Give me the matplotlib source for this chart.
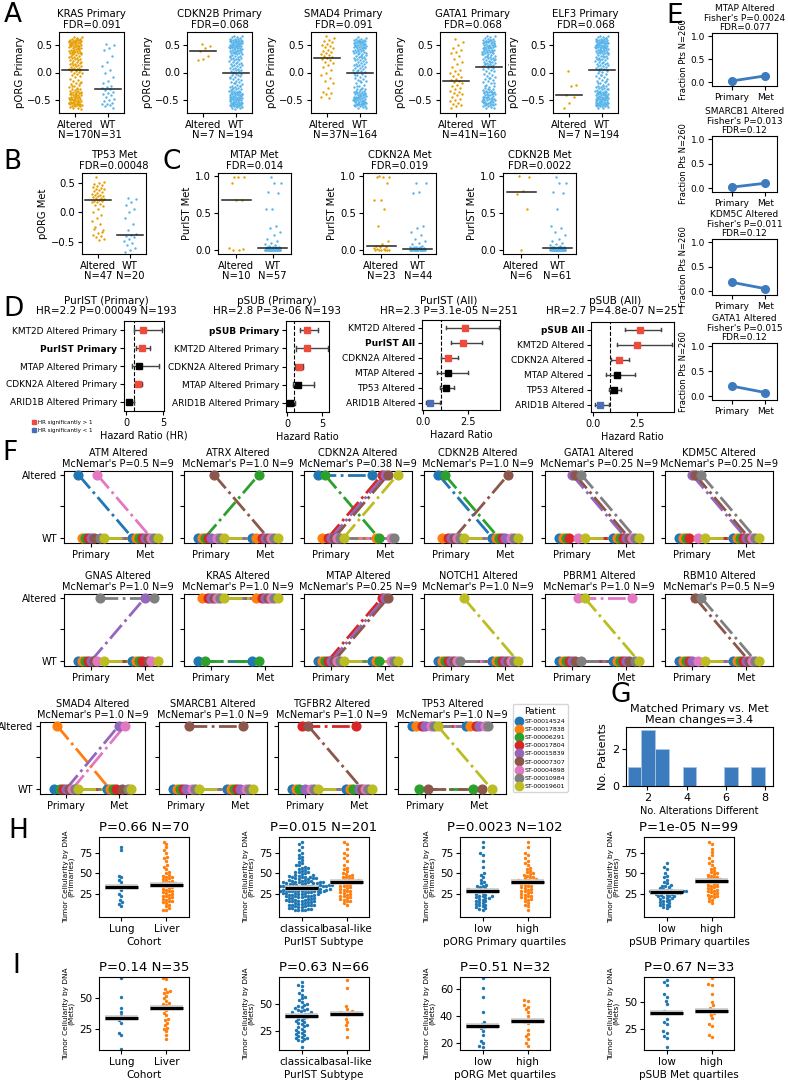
import numpy as np
import matplotlib
matplotlib.use("Agg")
import matplotlib.pyplot as plt
from matplotlib.lines import Line2D

plt.rcParams['font.family'] = ['DejaVu Sans']

# ============================ DATA ============================
# ---- Panel A: pORG Primary (values x100) ----
A_GENES = ["KRAS", "CDKN2B", "SMAD4", "GATA1", "ELF3"]
A_FDR = ["0.091", "0.068", "0.091", "0.068", "0.068"]
KRAS_ALT = ("65 64 63 62 61 60 60 59 58 58 57 56 56 55 55 54 53 53 52 52 51 50 50 49 48 48 47 46 45 45 "
            "44 43 42 42 41 40 39 38 38 37 36 35 34 33 32 31 30 29 28 27 26 25 24 23 22 21 20 19 18 17 "
            "16 15 14 13 12 11 10 9 8 7 6 6 60 55 50 45 40 35 48 52 44 38 57 62 33 "
            "4 3 2 1 0 -1 -3 -5 -7 -9 -11 -13 -15 -17 -19 -21 -23 -25 -27 -28 -30 -31 -32 -33 -34 -35 -36 -37 -38 -38 "
            "-39 -40 -41 -42 -42 -43 -44 -45 -45 -46 -47 -48 -48 -49 -50 -50 -51 -52 -52 -53 -54 -54 -55 -55 -56 -57 -57 -58 -58 -59 "
            "-60 -60 -61 -62 -62 -63 -64 -65 -66 -35 -40 -45 -50 -55 -30 -25 -20 -44 -48 -52 -56 -38 -42 -47 -60")
KRAS_WT = ("52 50 45 42 30 20 12 5 0 -8 -15 -20 -25 -27 -29 -30 "
           "-32 -35 -38 -40 -42 -45 -48 -50 -52 -55 -57 -58 -60 -62 -64")
CDKN2B_ALT = "52 48 45 39 30 25 22"
CDKN2B_WT = ("67 66 65 64 63 62 62 61 60 60 59 59 58 58 57 57 56 56 55 55 54 54 53 53 52 52 51 51 50 50 "
             "49 49 48 48 47 47 46 46 45 45 44 44 43 43 42 42 41 40 40 39 38 38 37 36 35 35 34 33 32 31 "
             "30 29 28 27 26 25 24 23 22 21 20 19 18 17 16 15 14 13 12 11 10 9 8 7 6 5 4 3 2 1 58 52 47 41 36 30 25 "
             "-1 -2 -3 -5 -6 -8 -9 -11 -12 -14 -15 -17 -18 -20 -21 -22 -24 -25 -26 -27 -28 -29 -30 -31 -32 -33 -33 -34 -35 -35 "
             "-36 -37 -37 -38 -38 -39 -40 -40 -41 -41 -42 -42 -43 -43 -44 -44 -45 -45 -46 -46 -47 -47 -48 -48 -49 -49 -50 -50 -51 -51 "
             "-52 -52 -53 -53 -54 -54 -55 -55 -56 -56 -57 -57 -58 -58 -59 -59 -60 -60 -61 -61 -62 -62 -63 -63 -64 -65 -66 -45 -50 -55 "
             "-40 -35 -30 -25 -20 -10 -5")
SMAD4_ALT = ("67 63 60 57 55 52 50 48 46 44 42 40 38 36 34 32 30 28 26 "
             "24 22 20 17 14 10 5 0 -5 -10 -15 -20 -28 -35 -38 -40 -45 -47")
SMAD4_WT = ("64 63 62 61 60 60 59 58 58 57 56 56 55 55 54 53 53 52 52 51 50 50 49 48 48 47 46 46 45 44 "
            "44 43 42 41 41 40 39 38 37 36 35 34 33 32 31 30 29 28 27 26 25 24 23 22 21 20 19 18 16 15 "
            "14 13 12 11 10 9 8 6 5 4 3 2 1 55 50 45 40 35 30 48 52 58 "
            "-1 -2 -4 -6 -8 -10 -12 -14 -16 -18 -20 -22 -24 -26 -28 -30 -31 -32 -33 -34 "
            "-35 -36 -37 -38 -39 -40 -40 -41 -42 -43 -43 -44 -45 -45 -46 -47 -47 -48 -49 -49 "
            "-50 -50 -51 -52 -52 -53 -54 -54 -55 -55 -56 -57 -57 -58 -58 -59 -60 -60 -61 -62 "
            "-62 -63 -64 -65 -30 -35 -40 -45 -50 -55 -25 -38 -42 -48 -52 -58 -44 -36 -46 -53 -15 -5")
GATA1_ALT = ("62 55 50 45 42 38 35 30 25 20 15 10 5 2 0 -3 -6 -9 -12 -14 -16 "
             "-18 -20 -22 -25 -28 -30 -33 -35 -38 -40 -42 -45 -48 -50 -52 -55 -58 -60 -62 -64")
GATA1_WT = ("67 66 64 63 62 61 60 59 58 58 57 56 55 55 54 53 52 52 51 50 50 49 48 47 47 46 45 44 44 43 "
            "42 41 40 40 39 38 37 36 35 34 33 32 31 30 29 28 27 26 25 24 23 22 21 20 19 18 17 16 15 14 "
            "13 12 11 57 53 49 45 41 37 33 60 55 50 46 42 38 30 25 20 15 "
            "9 8 6 5 3 2 0 -2 -4 -6 -8 -10 -12 -14 -16 -18 -20 -22 -24 -26 "
            "-28 -30 -31 -32 -33 -34 -35 -36 -37 -38 -39 -40 -41 -42 -43 -44 -45 -46 -47 -48 "
            "-49 -50 -50 -51 -52 -53 -54 -54 -55 -56 -57 -57 -58 -59 -60 -60 -61 -62 -63 -64 "
            "-65 -30 -35 -40 -45 -50 -55 -25 -38 -42 -48 -52 -58 -20 -10 -44 -46 -36 -53 -33")
ELF3_ALT = "2 -23 -25 -41 -45 -55 -65"
ELF3_WT = ("67 66 65 64 63 62 62 61 60 60 59 59 58 58 57 57 56 56 55 55 54 54 53 53 52 52 51 51 50 50 "
           "49 49 48 48 47 47 46 46 45 45 44 44 43 43 42 42 41 40 40 39 38 38 37 36 35 35 34 33 32 31 "
           "30 29 28 27 26 25 24 23 22 21 20 19 18 17 16 15 14 13 12 11 10 9 8 7 6 5 58 52 47 41 36 30 25 63 56 49 44 "
           "3 2 1 0 -2 -4 -6 -8 -10 -12 -14 -16 -18 -20 -21 -22 -24 -25 -26 -27 -28 -29 -30 -31 -32 -33 -33 -34 -35 -35 "
           "-36 -37 -37 -38 -38 -39 -40 -40 -41 -41 -42 -42 -43 -43 -44 -44 -45 -45 -46 -46 -47 -47 -48 -48 -49 -49 -50 -50 -51 -51 "
           "-52 -52 -53 -53 -54 -54 -55 -55 -56 -56 -57 -57 -58 -58 -59 -59 -60 -60 -61 -61 -62 -62 -63 -64 -65 -45 -50 -55 -40 -35 "
           "-30 -25 -20 -15 -5 -60 -48")

# ---- Panel B: pORG Met by TP53 (x100) ----
TP53_MET_ALT = ("60 52 50 48 47 45 44 42 40 39 38 36 35 33 32 30 29 28 27 26 25 24 23 21 "
                "20 19 18 17 15 12 10 5 0 -5 -10 -15 -20 -25 -30 -35 -38 -40 -42 -45 -47 -28 -33")
TP53_MET_WT = "25 22 18 12 5 0 -10 -20 -30 -37 -39 -40 -42 -45 -48 -52 -55 -60 -65 -67"

# ---- Panel C: PurIST Met (x100) ----
C_GENES = ["MTAP", "CDKN2A", "CDKN2B"]
C_FDR = ["0.014", "0.019", "0.0022"]
MTAP_MET_ALT = "99 99 98 91 68 68 3 1 0 2"
MTAP_MET_WT = ("99 90 90 78 77 55 55 33 30 25 20 15 12 10 8 7 6 5 5 4 4 4 3 3 3 3 3 3 3 2 "
               "2 2 2 2 1 1 1 1 1 1 1 1 0 0 0 0 0 0 0 0 0 0 0 0 0 0 0")
CDKN2A_MET_ALT = "100 99 99 98 90 68 67 55 33 12 8 6 5 4 3 2 2 1 1 0 0 0 0"
CDKN2A_MET_WT = ("90 90 78 77 33 30 25 20 15 12 10 8 6 5 5 4 4 3 3 3 3 2 2 2 2 2 1 1 1 1 "
                 "1 1 0 0 0 0 0 0 0 0 0 0 0 0")
CDKN2B_MET_ALT = "100 98 80 76 55 0"
CDKN2B_MET_WT = ("99 90 90 78 77 55 33 30 25 20 15 12 10 8 7 6 5 5 4 4 4 3 3 3 3 3 3 3 3 3 "
                 "3 2 2 2 2 2 1 1 1 1 1 1 1 0 0 0 0 0 0 0 0 0 0 0 0 0 0 0 0 0 0")

# ---- Panel D: Cox hazard ratios ----
D1_LABELS = ["KMT2D Altered Primary", "PurIST Primary", "MTAP Altered Primary",
             "CDKN2A Altered Primary", "ARID1B Altered Primary"]
D1_HR = [2.3, 2.2, 1.8, 1.6, 0.4]
D1_LO = [1.05, 1.4, 0.85, 1.15, 0.15]
D1_HI = [4.9, 3.3, 4.5, 2.1, 1.05]
D2_LABELS = ["pSUB Primary", "KMT2D Altered Primary", "CDKN2A Altered Primary",
             "MTAP Altered Primary", "ARID1B Altered Primary"]
D2_HR = [2.9, 2.8, 1.7, 1.6, 0.45]
D2_LO = [1.9, 1.3, 1.2, 0.8, 0.15]
D2_HI = [4.4, 5.9, 2.3, 3.9, 1.2]
D3_LABELS = ["KMT2D Altered", "PurIST All", "CDKN2A Altered", "MTAP Altered", "TP53 Altered", "ARID1B Altered"]
D3_HR = [2.35, 2.25, 1.4, 1.4, 1.3, 0.4]
D3_LO = [1.3, 1.55, 1.03, 0.8, 0.97, 0.15]
D3_HI = [4.25, 3.3, 1.95, 2.5, 1.75, 0.95]
D4_LABELS = ["pSUB All", "KMT2D Altered", "CDKN2A Altered", "MTAP Altered", "TP53 Altered", "ARID1B Altered"]
D4_HR = [2.7, 2.5, 1.5, 1.35, 1.2, 0.4]
D4_LO = [1.85, 1.35, 1.05, 0.75, 0.93, 0.1]
D4_HI = [3.85, 4.5, 2.05, 2.4, 1.6, 0.92]
D_TITLES = ["PurIST (Primary)\nHR=2.2 P=0.00049 N=193", "pSUB (Primary)\nHR=2.8 P=3e-06 N=193",
            "PurIST (All)\nHR=2.3 P=3.1e-05 N=251", "pSUB (All)\nHR=2.7 P=4.8e-07 N=251"]

# ---- Panel E: fraction of patients altered ----
E_TITLES = ["MTAP Altered\nFisher's P=0.0024\nFDR=0.077", "SMARCB1 Altered\nFisher's P=0.013\nFDR=0.12",
            "KDM5C Altered\nFisher's P=0.011\nFDR=0.12", "GATA1 Altered\nFisher's P=0.015\nFDR=0.12"]
E_PRIMARY = [0.03, 0.02, 0.18, 0.20]
E_MET = [0.14, 0.10, 0.05, 0.07]
E_PRIMARY_ERR = [0.02, 0.015, 0.03, 0.03]
E_MET_ERR = [0.05, 0.045, 0.03, 0.035]

# ---- Panel F: matched primary/met alteration status (patient order as PATIENTS) ----
PATIENTS = ["ST-00014524", "ST-00017838", "ST-00006291", "ST-00017804", "ST-00015839",
            "ST-00007307", "ST-00004898", "ST-00010984", "ST-00019601"]
F_GENES = ["ATM", "ATRX", "CDKN2A", "CDKN2B", "GATA1", "KDM5C",
           "GNAS", "KRAS", "MTAP", "NOTCH1", "PBRM1", "RBM10",
           "SMAD4", "SMARCB1", "TGFBR2", "TP53"]
F_PVAL = ["0.5", "1.0", "0.38", "1.0", "0.25", "0.25",
          "1.0", "1.0", "0.25", "1.0", "1.0", "0.5",
          "1.0", "1.0", "1.0", "1.0"]
F_PRIMARY = ["100000100", "000001000", "101000000", "101000000", "000011010", "000011010",
             "000000010", "010111111", "000000000", "000000001", "000000101", "000001010",
             "010000000", "000001000", "000101000", "110110111"]
F_MET = ["000000000", "001000000", "100111001", "000001000", "000000000", "000000000",
         "000010010", "010111111", "000111000", "000000000", "000000100", "000000000",
         "000010100", "000001000", "000100000", "110110110"]

# ---- Panel G: number of alterations different per patient ----
ALT_DIFF = [1, 2, 2, 2, 3, 3, 4, 6, 8]

# ---- Panel H: tumor cellularity (primaries) ----
H_LUNG = "82 78 47 45 42 40 35 33 30 25 22 18 15 13 10"
H_LIVER = ("88 86 82 78 75 70 68 65 60 58 55 52 50 48 47 46 45 44 43 42 41 40 39 38 38 37 37 36 "
           "35 34 33 32 31 30 29 28 27 26 25 24 23 22 21 20 19 18 17 16 15 14 12 10 8 6 5")
H_CLASSICAL = ("88 85 82 78 75 72 70 68 66 64 62 60 58 57 56 55 54 53 52 51 50 49 48 47 47 46 46 45 45 44 "
               "44 43 43 42 42 41 41 40 40 40 39 39 39 38 38 38 37 37 37 36 36 36 36 35 35 35 35 34 34 34 "
               "34 34 33 33 33 33 33 33 48 52 44 41 38 36 60 "
               "31 31 31 31 31 30 30 30 30 30 29 29 29 29 28 28 28 28 27 27 27 26 26 26 25 25 25 24 24 23 "
               "23 22 22 21 21 20 20 19 19 18 18 17 17 16 16 15 15 14 14 13 13 12 12 11 11 10 10 9 9 8 "
               "8 7 7 6 6 5 5 28 24 20 16 12 26 22 18")
H_BASAL = ("88 86 80 75 72 68 65 60 57 55 53 50 49 48 47 46 45 44 43 42 42 41 41 40 40 39 "
           "38 37 36 35 34 33 32 31 30 29 28 27 26 25 24 23 22 21 20 19 18 17 16 14 12")
H_PORG_LOW = ("88 82 75 72 65 58 50 48 45 42 40 38 36 35 34 33 32 31 30 30 29 29 29 28 28 "
              "28 27 26 25 24 23 22 22 21 20 20 19 18 17 16 15 14 13 12 11 10 9 8 7 6")
H_PORG_HIGH = ("88 82 75 72 68 65 62 60 57 55 53 51 50 49 48 47 46 45 44 43 42 42 41 41 40 40 "
               "38 37 36 35 34 33 32 31 30 29 28 27 26 25 24 23 22 21 20 19 18 16 14 12 10 6")
H_PSUB_LOW = ("62 58 55 50 47 45 42 40 38 36 35 34 33 32 31 30 30 29 29 28 28 28 27 27 27 "
              "27 26 26 25 25 24 24 23 22 21 20 20 19 18 17 16 15 14 13 12 11 10 9 8 22")
H_PSUB_HIGH = ("88 86 80 76 72 68 65 62 60 57 55 53 51 50 49 48 47 46 45 44 43 43 42 42 41 "
               "40 39 38 37 36 35 34 33 32 31 30 29 28 27 26 25 24 23 22 21 20 18 16 14")
H_PVALS = ["0.66", "0.015", "0.0023", "1e-05"]

# ---- Panel I: tumor cellularity (mets) ----
I_LUNG = "66 51 42 39 36 32 30 22 20 9"
I_LIVER = "66 65 57 56 55 54 52 50 48 46 45 44 42 40 38 36 33 32 30 28 26 25 23 20 17"
I_CLASSICAL = ("70 68 67 63 60 58 56 55 54 52 50 49 48 47 46 45 44 44 43 42 42 41 41 40 40 40 "
               "38 37 36 35 34 33 32 31 30 29 28 27 26 25 24 23 22 21 20 19 18 18 17 16 15 10")
I_BASAL = "72 65 48 45 43 42 41 41 40 36 33 30 27 19"
I_PORG_LOW = "68 61 54 43 36 34 33 33 32 31 29 26 22 20 18 17"
I_PORG_HIGH = "52 51 48 47 45 43 40 37 36 35 30 27 25 23 20 18"
I_PSUB_LOW = "70 68 66 57 55 51 48 42 40 34 32 30 23 22 19 17 9"
I_PSUB_HIGH = "72 67 66 57 50 47 45 43 41 40 38 35 30 28 20 18"
I_PVALS = ["0.14", "0.63", "0.51", "0.67"]

HI_XLABELS_H = ["Cohort", "PurIST Subtype", "pORG Primary quartiles", "pSUB Primary quartiles"]
HI_XLABELS_I = ["Cohort", "PurIST Subtype", "pORG Met quartiles", "pSUB Met quartiles"]
HI_CATS = [["Lung", "Liver"], ["classical", "basal-like"], ["low", "high"], ["low", "high"]]

# ============================ HELPERS ============================
W, H = 788, 1081
fig = plt.figure(figsize=(W / 100, H / 100), dpi=100)


def pax(l, t, r, b):
    return fig.add_axes([l / W, 1 - b / H, (r - l) / W, (b - t) / H])


def ftext(x, y, s, **kw):
    fig.text(x / W, 1 - y / H, s, **kw)


def hv(s):
    return np.array(s.split(), float) / 100.0


def iv(s):
    return np.array(s.split(), float)


def jit(n, w):
    k = np.arange(n)
    return ((k * 0.6180339887 + 0.37) % 1.0 - 0.5) * 2 * w


ALT_C = "#E69F00"
WT_C = "#56B4E9"


def strip(ax, groups, labels, ylim, ylabel, title, w=0.2, fs=7.5):
    for i, (v, c) in enumerate(zip(groups, [ALT_C, WT_C])):
        ax.scatter(i + jit(len(v), w), v, s=3, color=c, linewidths=0, zorder=2)
        m = np.median(v)
        ax.plot([i - 0.4, i + 0.4], [m, m], color="#222222", lw=1.1, zorder=3)
    ax.set_xlim(-0.5, 1.5)
    ax.set_ylim(*ylim)
    ax.set_xticks([0, 1])
    ax.set_xticklabels([f"{labels[0]}\nN={len(groups[0])}", f"{labels[1]}\nN={len(groups[1])}"],
                       fontsize=fs, linespacing=1.05)
    ax.tick_params(labelsize=fs, length=3, pad=2)
    ax.set_ylabel(ylabel, fontsize=fs, labelpad=2)
    ax.set_title(title, fontsize=fs, pad=3, linespacing=1.1)


# ============================ PANEL A ============================
A_ALT = [hv(KRAS_ALT), hv(CDKN2B_ALT), hv(SMAD4_ALT), hv(GATA1_ALT), hv(ELF3_ALT)]
A_WT = [hv(KRAS_WT), hv(CDKN2B_WT), hv(SMAD4_WT), hv(GATA1_WT), hv(ELF3_WT)]
A_LEFTS = [59, 187, 311, 440, 553]
for k in range(5):
    ax = pax(A_LEFTS[k], 32, A_LEFTS[k] + 65, 113)
    strip(ax, [A_ALT[k], A_WT[k]], ["Altered", "WT"], (-0.74, 0.74), "pORG Primary",
          f"{A_GENES[k]} Primary\nFDR={A_FDR[k]}", w=0.2, fs=7.3)
    ax.set_yticks([-0.5, 0, 0.5])

# ============================ PANEL B ============================
ax = pax(82, 173, 146, 254)
strip(ax, [hv(TP53_MET_ALT), hv(TP53_MET_WT)], ["Altered", "WT"], (-0.71, 0.67), "pORG Met",
      "TP53 Met\nFDR=0.00048", w=0.2, fs=7.2)
ax.set_yticks([-0.5, 0, 0.5])

# ============================ PANEL C ============================
C_ALT = [hv(MTAP_MET_ALT), hv(CDKN2A_MET_ALT), hv(CDKN2B_MET_ALT)]
C_WT = [hv(MTAP_MET_WT), hv(CDKN2A_MET_WT), hv(CDKN2B_MET_WT)]
C_LEFTS = [218, 363, 503]
for k in range(3):
    ax = pax(C_LEFTS[k], 173, C_LEFTS[k] + 73, 254)
    strip(ax, [C_ALT[k], C_WT[k]], ["Altered", "WT"], (-0.05, 1.04), "PurIST Met",
          f"{C_GENES[k]} Met\nFDR={C_FDR[k]}", w=0.22, fs=7.2)
    ax.set_yticks([0, 0.5, 1.0])

# ============================ PANEL D ============================
RED = "#EF4B3C"
BLUE = "#4A6FB5"
D_SETS = [(D1_LABELS, D1_HR, D1_LO, D1_HI, 1), (D2_LABELS, D2_HR, D2_LO, D2_HI, 0),
          (D3_LABELS, D3_HR, D3_LO, D3_HI, 1), (D4_LABELS, D4_HR, D4_LO, D4_HI, 0)]
D_BOX = [(124, 321, 164, 411), (286, 321, 329, 412), (422, 320, 500, 410), (591, 322, 674, 412)]
D_XLIM = [(-0.3, 5.15), (-0.15, 6.0), (-0.05, 4.3), (-0.1, 4.6)]
D_XT = [([0, 5], ["0", "5"]), ([0, 5], ["0", "5"]), ([0, 2.5], ["0.0", "2.5"]), ([0, 2.5], ["0.0", "2.5"])]
D_XLAB = ["Hazard Ratio (HR)", "Hazard Ratio", "Hazard Ratio", "Hazard Ratio"]
D_TCX = [106, 277, 449, 615]
for k, (labs, hr, lo, hi, bold) in enumerate(D_SETS):
    ax = pax(*D_BOX[k])
    n = len(labs)
    for j in range(n):
        col = RED if lo[j] > 1 else (BLUE if hi[j] < 1 else "black")
        ax.plot([lo[j], hi[j]], [j, j], color="#444444", lw=1.0, zorder=2)
        ax.plot([lo[j], lo[j]], [j - 0.13, j + 0.13], color="#444444", lw=1.0, zorder=2)
        ax.plot([hi[j], hi[j]], [j - 0.13, j + 0.13], color="#444444", lw=1.0, zorder=2)
        ax.plot([hr[j]], [j], marker="s", ms=5, color=col, ls="", zorder=3)
    ax.axvline(1, ls="--", color="black", lw=0.8, zorder=1)
    ax.set_ylim(n - 0.5, -0.5)
    ax.set_xlim(*D_XLIM[k])
    ax.set_yticks(range(n))
    ax.set_yticklabels(labs, fontsize=6.5)
    ax.get_yticklabels()[bold].set_fontweight("bold")
    ax.set_xticks(D_XT[k][0])
    ax.set_xticklabels(D_XT[k][1], fontsize=7)
    ax.tick_params(length=3, pad=2)
    ax.set_xlabel(D_XLAB[k], fontsize=7, labelpad=2)
    ftext(D_TCX[k], 306, D_TITLES[k], fontsize=7.5, ha="center", va="center", linespacing=1.1)

hd = [Line2D([], [], marker="s", ls="", color=RED, ms=3.5),
      Line2D([], [], marker="s", ls="", color=BLUE, ms=3.5)]
fig.legend(hd, ["HR significantly > 1", "HR significantly < 1"], loc="upper left",
           bbox_to_anchor=(28 / W, 1 - 417 / H), fontsize=4, frameon=False,
           handletextpad=0.2, labelspacing=0.5, handlelength=1.0, borderpad=0.1)

# ============================ PANEL E ============================
E_TOPS = [33, 136, 239, 343]
E_BOTS = [86, 192, 295, 400]
ECOL = "#3B7BBE"
for k in range(4):
    ax = pax(712, E_TOPS[k], 777, E_BOTS[k])
    ax.errorbar([0, 1], [E_PRIMARY[k], E_MET[k]], yerr=[E_PRIMARY_ERR[k], E_MET_ERR[k]],
                color=ECOL, lw=2, marker="o", ms=5.5, elinewidth=2)
    ax.set_ylim(-0.08, 1.07)
    ax.set_xlim(-0.6, 1.35)
    ax.set_yticks([0, 0.5, 1.0])
    ax.set_xticks([0, 1])
    ax.set_xticklabels(["Primary", "Met"])
    ax.tick_params(labelsize=6.5, length=3, pad=2)
    ax.set_ylabel("Fraction Pts N=260", fontsize=6, labelpad=2)
    ax.set_title(E_TITLES[k], fontsize=6.5, pad=2, linespacing=1.1)

# ============================ PANEL F ============================
PCOL = ["#1f77b4", "#ff7f0e", "#2ca02c", "#d62728", "#9467bd",
        "#8c564b", "#e377c2", "#7f7f7f", "#bcbd22"]
F_TOPS = [471, 594, 722]
F_LEFTS = [[64, 184, 304, 424, 545, 665], [64, 184, 304, 424, 545, 665], [40, 159, 278, 398]]
FW, FH = 108, 72
g = 0
for r in range(3):
    for c, left in enumerate(F_LEFTS[r]):
        fw = FW if not (r == 2 and c == 0) else FW - 3
        ax = pax(left, F_TOPS[r], left + fw, F_TOPS[r] + FH)
        prim = F_PRIMARY[g]
        met = F_MET[g]
        for pi in range(9):
            off = (pi - 4) * 0.058
            yv = [int(prim[pi]), int(met[pi])]
            ax.plot([off, 1 + off], yv, color=PCOL[pi], lw=2.0, ls="-.", zorder=2)
        for pi in range(9):
            off = (pi - 4) * 0.058
            yv = [int(prim[pi]), int(met[pi])]
            ax.plot([off, 1 + off], yv, "o", color=PCOL[pi], ms=6.3, zorder=3, clip_on=False)
        ax.set_xlim(-0.5, 1.5)
        ax.set_ylim(-0.08, 1.06)
        ax.set_xticks([0, 1])
        ax.set_xticklabels(["Primary", "Met"], fontsize=7)
        ax.set_yticks([0, 0.5, 1])
        if c == 0:
            ax.set_yticklabels(["WT", "", "Altered"], fontsize=7)
        else:
            ax.set_yticklabels(["", "", ""])
        ax.tick_params(length=3, pad=2)
        ax.set_title(f"{F_GENES[g]} Altered\nMcNemar's P={F_PVAL[g]} N=9", fontsize=7, pad=3,
                     linespacing=1.1)
        g += 1

ph = [Line2D([], [], marker="o", ls="", color=cc, ms=6) for cc in PCOL]
fig.legend(ph, PATIENTS, title="Patient", loc="upper left", bbox_to_anchor=(513 / W, 1 - 704 / H),
           fontsize=4.5, title_fontsize=6.5, frameon=True, labelspacing=0.45, handletextpad=0.4,
           borderpad=0.4, handlelength=1.0, borderaxespad=0)

# ============================ PANEL G ============================
ax = pax(626, 727, 773, 786)
ax.hist(ALT_DIFF, bins=10, color="#3B7BBE", edgecolor="#A9C6E4", lw=0.6)
ax.set_xlim(0.92, 8.4)
ax.set_ylim(0, 3.15)
ax.set_xticks([2, 4, 6, 8])
ax.set_yticks([0, 2])
ax.tick_params(labelsize=8, length=3, pad=2)
ax.set_ylabel("No. Patients", fontsize=8, labelpad=3)
ax.set_xlabel("No. Alterations Different", fontsize=7, labelpad=2)
ax.set_title(f"Matched Primary vs. Met\nMean changes={np.mean(ALT_DIFF):.1f}", fontsize=8, pad=3,
             linespacing=1.1)


# ============================ PANELS H, I ============================
def swarm_offsets(v, xs, ys, d):
    order = np.argsort(v, kind="stable")
    placed = []
    offs = np.zeros(len(v))
    for idx in order:
        y = v[idx] * ys
        near = [(px, py) for (px, py) in placed if abs(py - y) < d]
        cands = [0.0]
        for (px, py) in near:
            dx = np.sqrt(d * d - (py - y) ** 2)
            cands += [px + dx, px - dx]
        cands = sorted(cands, key=lambda q: (abs(q), q))
        cx = cands[-1]
        for q in cands:
            if all((q - px) ** 2 + (y - py) ** 2 >= d * d * 0.999 for (px, py) in near):
                cx = q
                break
        placed.append((cx, y))
        offs[idx] = cx / xs
    return offs


HI_COLS = ["#1f77b4", "#ff7f0e"]


def hi_panel(left, top, bot, groups, cats, ylim, yticks, title, xlabel, ylabel):
    wpx = 90
    ax = pax(left, top, left + wpx, bot)
    ax.set_xlim(-0.5, 1.5)
    ax.set_ylim(*ylim)
    ys = (bot - top) / (ylim[1] - ylim[0])
    xs = wpx / 2.0
    for i, v in enumerate(groups):
        off = swarm_offsets(v, xs, ys, 3.3)
        ax.scatter(i + off, v, s=6, color=HI_COLS[i], linewidths=0, zorder=2)
        m = np.median(v)
        ax.plot([i - 0.36, i + 0.36], [m, m], color="#c8c8c8", lw=4.0, zorder=3, solid_capstyle="butt")
        ax.plot([i - 0.36, i + 0.36], [m, m], color="black", lw=2.2, zorder=4, solid_capstyle="butt")
    ax.set_xticks([0, 1])
    ax.set_xticklabels(cats, fontsize=7.5)
    ax.set_yticks(yticks)
    ax.tick_params(labelsize=7.5, length=3, pad=2)
    ax.set_title(title, fontsize=9.5, pad=4)
    ax.set_xlabel(xlabel, fontsize=7.5, labelpad=2)
    ax.set_ylabel(ylabel, fontsize=5.3, labelpad=3, linespacing=0.9)


H_GROUPS = [[iv(H_LUNG), iv(H_LIVER)], [iv(H_CLASSICAL), iv(H_BASAL)],
            [iv(H_PORG_LOW), iv(H_PORG_HIGH)], [iv(H_PSUB_LOW), iv(H_PSUB_HIGH)]]
I_GROUPS = [[iv(I_LUNG), iv(I_LIVER)], [iv(I_CLASSICAL), iv(I_BASAL)],
            [iv(I_PORG_LOW), iv(I_PORG_HIGH)], [iv(I_PSUB_LOW), iv(I_PSUB_HIGH)]]
HI_LEFTS = [99, 279, 460, 644]
I_YLIM = [(8, 67), (7, 75), (15, 69), (6, 73)]
I_YT = [[25, 50], [25, 50], [20, 40, 60], [25, 50]]
for k in range(4):
    gH = H_GROUPS[k]
    hi_panel(HI_LEFTS[k], 837, 917, gH, HI_CATS[k], (-3, 94), [25, 50, 75],
             f"P={H_PVALS[k]} N={len(gH[0]) + len(gH[1])}", HI_XLABELS_H[k],
             "Tumor Cellularity by DNA\n(Primaries)")
    gI = I_GROUPS[k]
    hi_panel(HI_LEFTS[k], 977, 1050, gI, HI_CATS[k], I_YLIM[k], I_YT[k],
             f"P={I_PVALS[k]} N={len(gI[0]) + len(gI[1])}", HI_XLABELS_I[k],
             "Tumor Cellularity by DNA\n(Mets)")

# ============================ PANEL LETTERS ============================
for (x, y, s) in [(4, 2, "A"), (3, 149, "B"), (163, 149, "C"), (3, 296, "D"), (666, 3, "E"),
                  (2, 440, "F"), (610, 682, "G"), (8, 818, "H"), (12, 953, "I")]:
    ftext(x, y, s, fontsize=19, va="top", ha="left")

fig.savefig("out.png", dpi=100)
